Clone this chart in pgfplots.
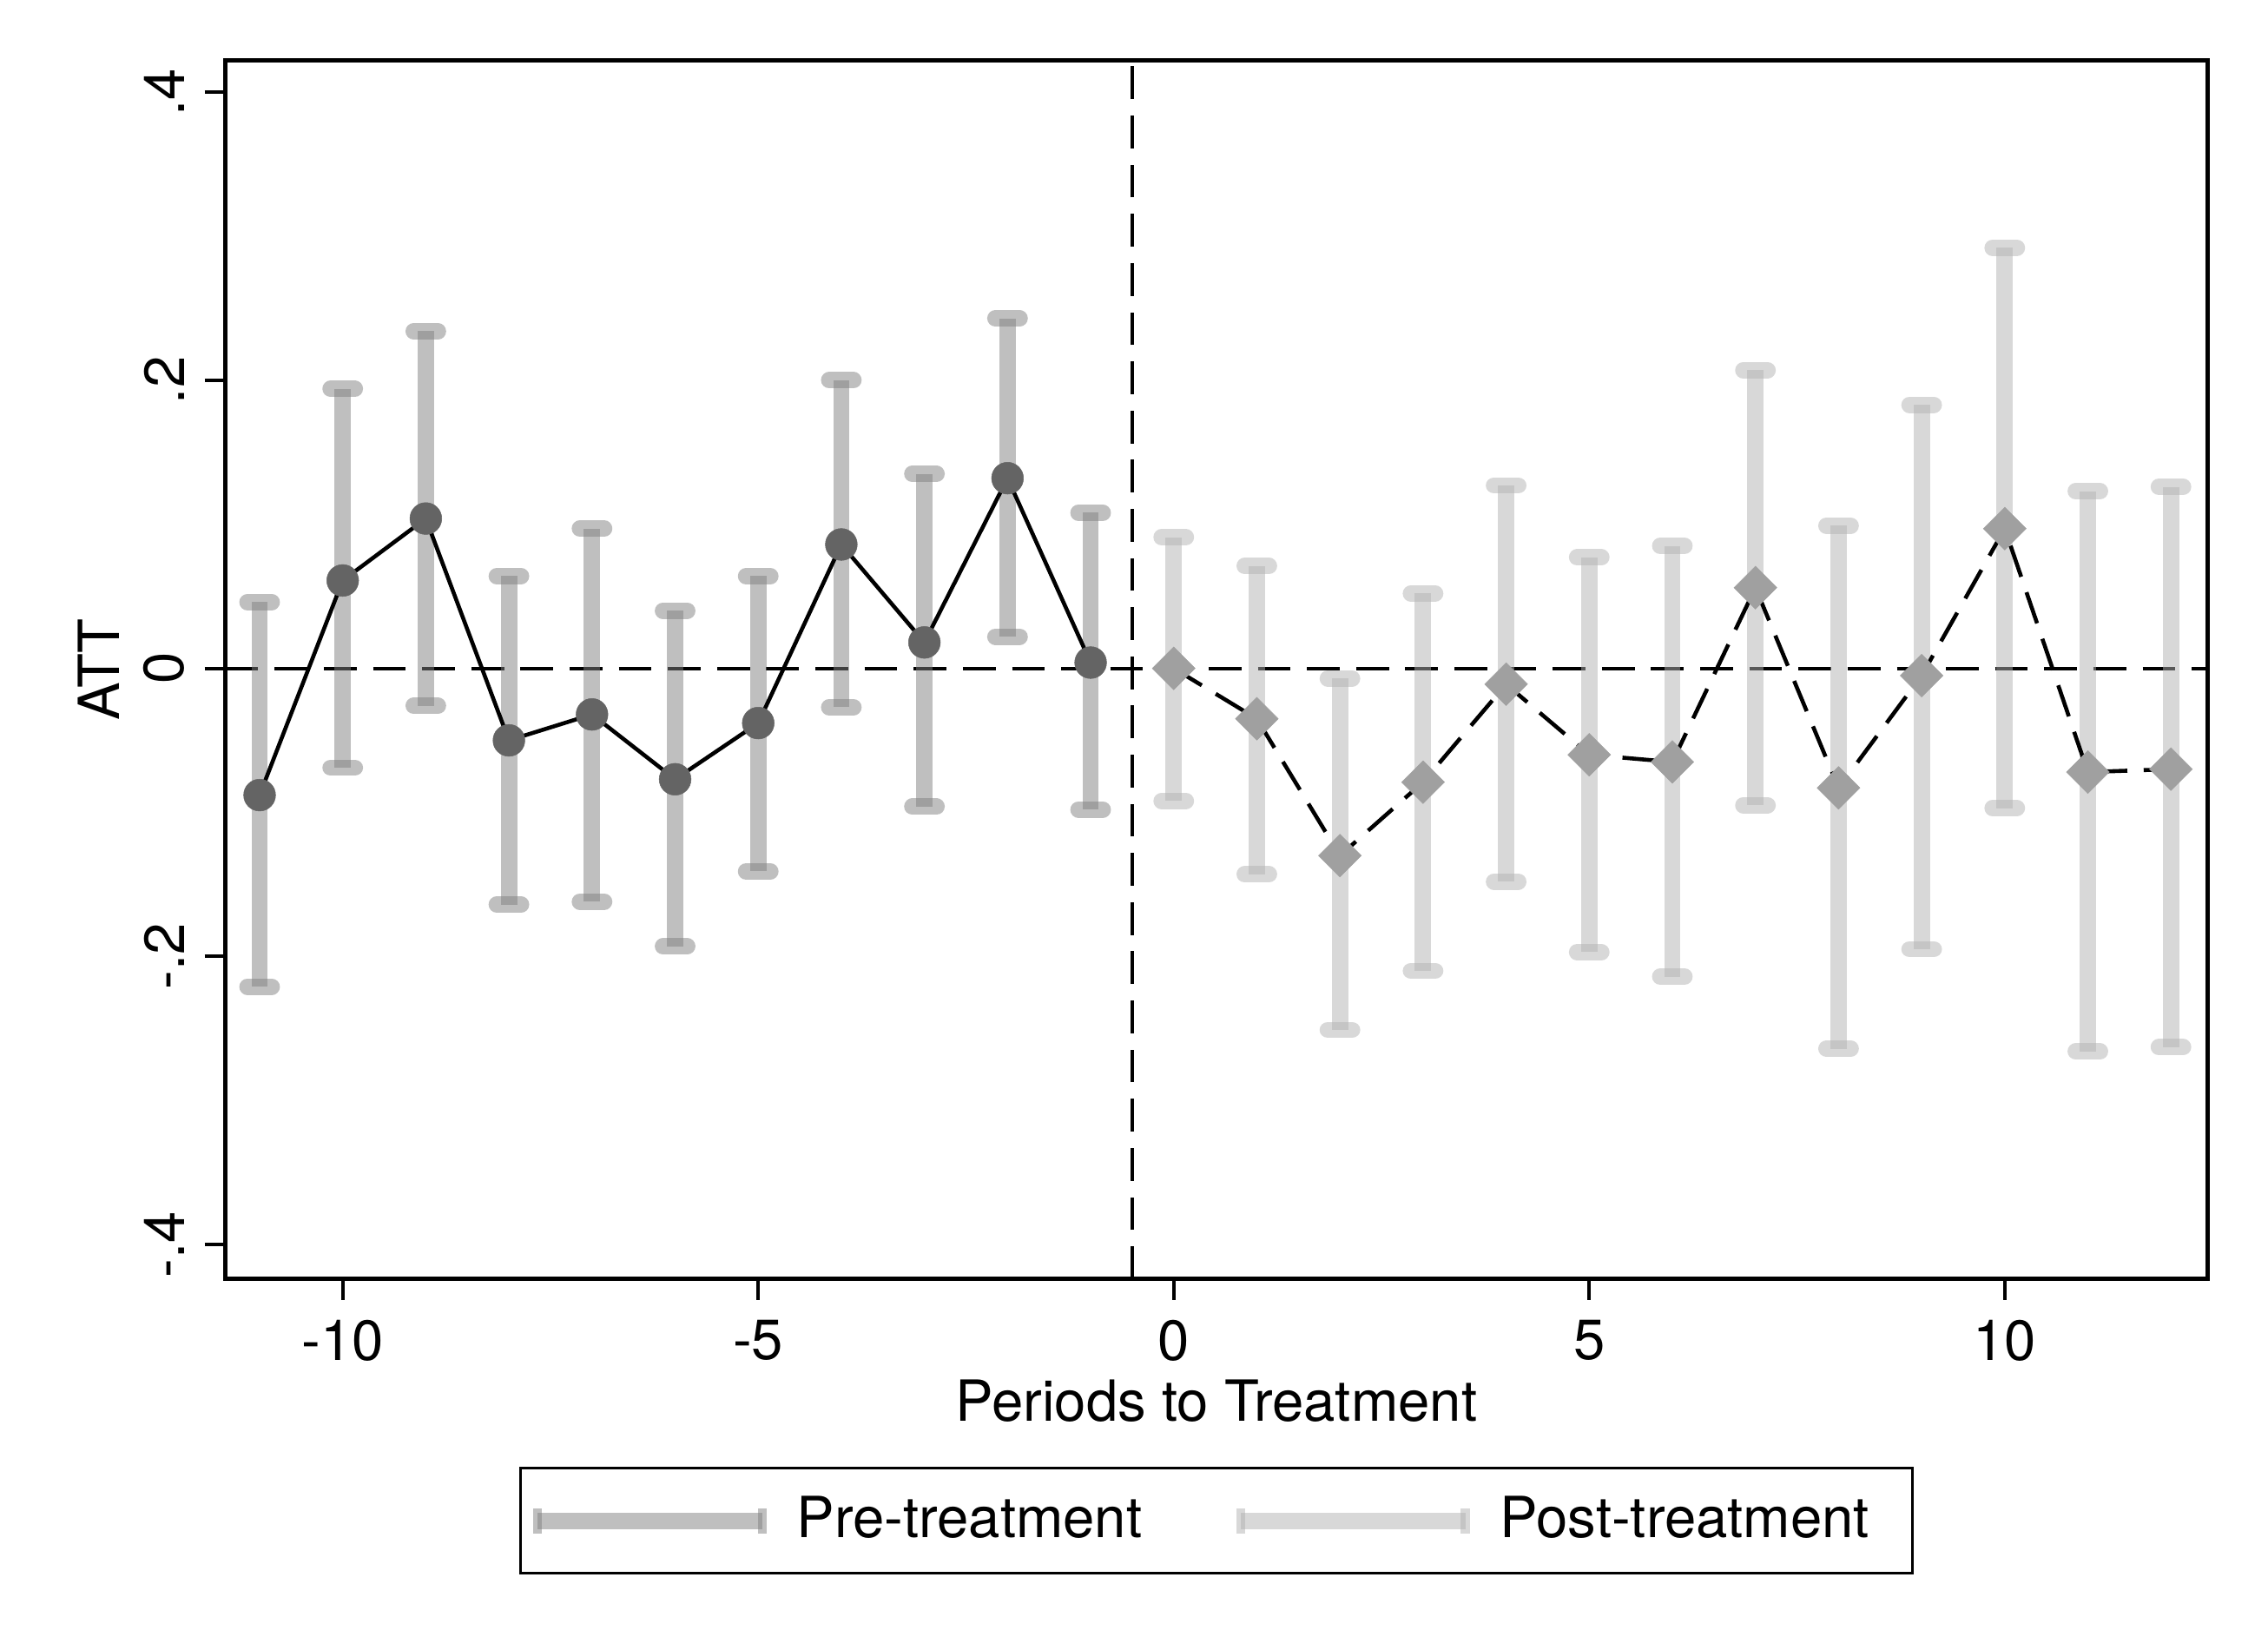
\documentclass[border=0pt]{standalone}
\usepackage{fontspec}
\setmainfont{TeX Gyre Heros}
\usepackage{pgfplots}
\usepackage{pgfplotstable}
\pgfplotsset{compat=1.18}
\definecolor{prebar}{RGB}{128,128,128}
\definecolor{postbar}{RGB}{178,178,178}
\definecolor{premark}{RGB}{100,100,100}
\definecolor{postmark}{RGB}{160,160,160}

\pgfplotstableread{
x y lo hi
-11 -0.088 -0.221 0.046
-10 0.061 -0.069 0.194
-9 0.104 -0.026 0.234
-8 -0.050 -0.164 0.064
-7 -0.032 -0.162 0.097
-6 -0.077 -0.193 0.040
-5 -0.038 -0.141 0.064
-4 0.086 -0.027 0.200
-3 0.018 -0.096 0.135
-2 0.132 0.022 0.243
-1 0.004 -0.098 0.108
}\pre

\pgfplotstableread{
x y lo hi
0 0.000 -0.092 0.091
1 -0.035 -0.143 0.071
2 -0.130 -0.251 -0.007
3 -0.079 -0.210 0.052
4 -0.011 -0.148 0.127
5 -0.060 -0.197 0.077
6 -0.065 -0.214 0.085
7 0.056 -0.095 0.207
8 -0.083 -0.264 0.099
9 -0.005 -0.195 0.183
10 0.097 -0.097 0.292
11 -0.072 -0.266 0.123
12 -0.070 -0.263 0.126
}\post

\begin{document}
\fontsize{12.8}{15}\selectfont
\begin{tikzpicture}
\begin{axis}[
  scale only axis,
  width=15.73cm, height=9.67cm,
  xmin=-11.41, xmax=12.44,
  ymin=-0.424, ymax=0.422,
  axis line style={line width=1pt},
  tick style={line width=0.8pt, black},
  tick align=outside,
  major tick length=0.166cm,
  xtick={-10,-5,0,5,10},
  ytick={-0.4,-0.2,0,0.2,0.4},
  yticklabels={-.4,-.2,0,.2,.4},
  yticklabel style={rotate=90, anchor=south},
  xtick pos=bottom, ytick pos=left,
  /pgf/number format/assume math mode=true,
  xlabel={Periods to Treatment},
  ylabel={ATT},
  xlabel style={at={(axis description cs:0.5,-0.0997)}, anchor=center},
  ylabel style={at={(axis description cs:-0.0642,0.5)}, anchor=center},
  legend style={at={(0.5,-0.154)}, anchor=north, legend columns=2,
    draw=black, line width=0.6pt, inner xsep=0.07cm, inner ysep=0.15cm,
    /tikz/every odd column/.append style={column sep=0.14cm},
    /tikz/every even column/.append style={column sep=0.65cm}},
  legend cell align=left,
]
% reference lines
\addplot[forget plot, black, line width=0.8pt, dash pattern=on 7.4pt off 3.7pt] coordinates {(-11.41,0) (12.44,0)};
\addplot[forget plot, black, line width=0.8pt, dash pattern=on 7.4pt off 3.7pt] coordinates {(-0.5,-0.424) (-0.5,0.422)};
% error bars
\addplot[draw=none, mark=none,
  legend image code/.code={
    \draw[line width=3.7pt, draw=prebar, opacity=0.5] (0cm,0cm) -- (1.78cm,0cm);
    \fill[prebar, opacity=0.5] (-0.035cm,-0.1cm) rectangle (0.035cm,0.1cm);
    \fill[prebar, opacity=0.5] (1.745cm,-0.1cm) rectangle (1.815cm,0.1cm);
  },
  error bars/.cd, y dir=both, y explicit, error mark=|,
  error bar style={draw=prebar, opacity=0.5, line width=3.7pt},
  error mark options={draw=prebar, opacity=0.5, line width=3.7pt, line cap=round, mark size=0.0965cm}]
  table[x=x, y=y, y error plus expr=\thisrow{hi}-\thisrow{y}, y error minus expr=\thisrow{y}-\thisrow{lo}] {\pre};
\addlegendentry{Pre-treatment}
\addplot[draw=none, mark=none,
  legend image code/.code={
    \draw[line width=3.7pt, draw=postbar, opacity=0.5] (0cm,0cm) -- (1.78cm,0cm);
    \fill[postbar, opacity=0.5] (-0.035cm,-0.1cm) rectangle (0.035cm,0.1cm);
    \fill[postbar, opacity=0.5] (1.745cm,-0.1cm) rectangle (1.815cm,0.1cm);
  },
  error bars/.cd, y dir=both, y explicit, error mark=|,
  error bar style={draw=postbar, opacity=0.5, line width=3.7pt},
  error mark options={draw=postbar, opacity=0.5, line width=3.7pt, line cap=round, mark size=0.0965cm}]
  table[x=x, y=y, y error plus expr=\thisrow{hi}-\thisrow{y}, y error minus expr=\thisrow{y}-\thisrow{lo}] {\post};
\addlegendentry{Post-treatment\hspace*{0.2cm}}
% estimates
\addplot[forget plot, black, line width=0.9pt, mark=*, mark size=3.6pt,
  mark options={solid, fill=premark, draw=premark, line width=0.1pt}] table[x=x, y=y] {\pre};
\addplot[forget plot, black, line width=0.9pt, dash pattern=on 7.4pt off 3.7pt, mark=square*, mark size=3.42pt,
  mark options={solid, fill=postmark, draw=postmark, line width=0.1pt, rotate=45}] table[x=x, y=y] {\post};
\end{axis}
\path ([xshift=-1.79cm,yshift=-2.94cm]current axis.south west) rectangle ([xshift=0.48cm,yshift=0.48cm]current axis.north east);
\end{tikzpicture}
\end{document}
